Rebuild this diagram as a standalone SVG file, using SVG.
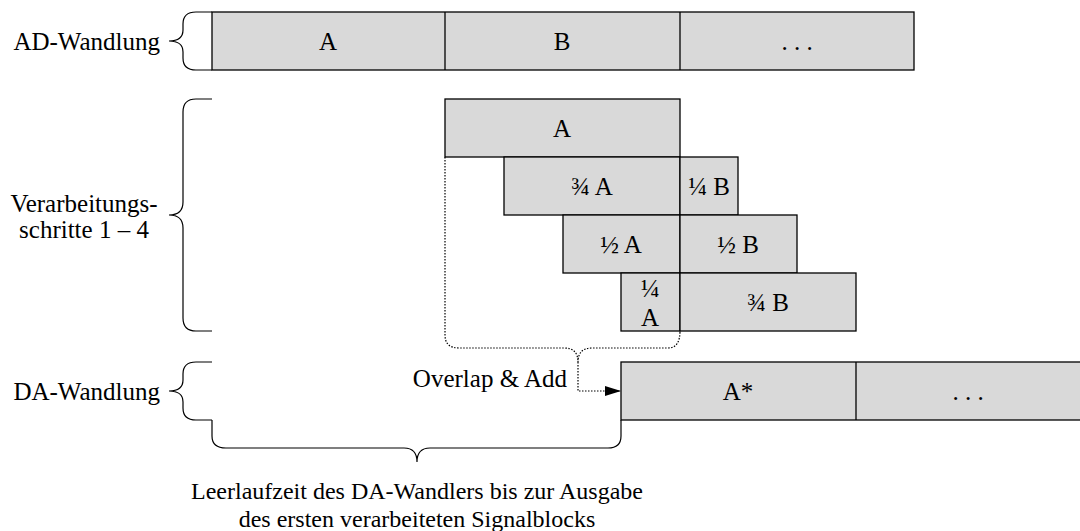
<svg xmlns="http://www.w3.org/2000/svg" width="1080" height="531" viewBox="0 0 1080 531">
<defs>
<style>
.box{fill:#d9d9d9;stroke:#000;stroke-width:1.3}
.t{font-family:"Liberation Serif","Times New Roman",serif;font-size:25px;fill:#000}
.s{font-size:24px}
.c{text-anchor:middle;dominant-baseline:central}
.brace{fill:none;stroke:#000;stroke-width:1.2}
.dot{fill:none;stroke:#000;stroke-width:1.2;stroke-dasharray:1.5 1.5}
</style>
<marker id="arr" markerWidth="16" markerHeight="12" refX="16" refY="6" orient="auto" markerUnits="userSpaceOnUse">
<path d="M0,1 L16,6 L0,11 Z" fill="#000"/>
</marker>
</defs>
<rect width="1080" height="531" fill="#fff"/>

<g id="ad-row">
<rect class="box" x="212" y="12" width="702" height="58"/>
<line x1="445" y1="12" x2="445" y2="70" stroke="#000" stroke-width="1.3"/>
<line x1="680" y1="12" x2="680" y2="70" stroke="#000" stroke-width="1.3"/>
<text class="t c" x="328" y="41">A</text>
<text class="t c" x="562" y="41">B</text>
<text class="t c" x="797" y="41">. . .</text>
</g>

<g id="step1">
<rect class="box" x="445" y="99" width="235" height="58"/>
<text class="t c" x="562" y="128">A</text>
</g>
<g id="step2">
<rect class="box" x="504" y="157" width="176" height="58"/>
<rect class="box" x="680" y="157" width="58" height="58"/>
<text class="t c" x="592" y="186">¾ A</text>
<text class="t c" x="709" y="186">¼ B</text>
</g>
<g id="step3">
<rect class="box" x="563" y="215" width="117" height="58"/>
<rect class="box" x="680" y="215" width="117" height="58"/>
<text class="t c" x="621" y="244">½ A</text>
<text class="t c" x="738" y="244">½ B</text>
</g>
<g id="step4">
<rect class="box" x="621" y="273" width="59" height="58"/>
<rect class="box" x="680" y="273" width="176" height="58"/>
<text class="t c" x="650" y="288">¼</text>
<text class="t c" x="650" y="317">A</text>
<text class="t c" x="768" y="302">¾ B</text>
</g>

<g id="da-row">
<rect class="box" x="621" y="362" width="470" height="58"/>
<line x1="856" y1="362" x2="856" y2="420" stroke="#000" stroke-width="1.3"/>
<text class="t c" x="738" y="391">A*</text>
<text class="t c" x="968" y="391">. . .</text>
</g>

<g id="labels">
<text class="t" x="160" y="41" text-anchor="end" dominant-baseline="central">AD-Wandlung</text>
<text class="t" x="84" y="203" text-anchor="middle" dominant-baseline="central">Verarbeitungs-</text>
<text class="t" x="84" y="229" text-anchor="middle" dominant-baseline="central">schritte 1 – 4</text>
<text class="t" x="160" y="391" text-anchor="end" dominant-baseline="central">DA-Wandlung</text>
<text class="t" x="567" y="378" text-anchor="end" dominant-baseline="central">Overlap &amp; Add</text>
<text class="t s c" x="417" y="491">Leerlaufzeit des DA-Wandlers bis zur Ausgabe</text>
<text class="t s c" x="417" y="519">des ersten verarbeiteten Signalblocks</text>
</g>

<g id="connectors">
<path class="brace" d="M212,12 H196 Q183,12 183,24 V30 Q183,41 169,41 Q183,41 183,52 V58 Q183,70 196,70 H212"/>
<path class="brace" d="M212,99 H196 Q183,99 183,112 V202 Q183,215 169,215 Q183,215 183,228 V318 Q183,331 196,331 H212"/>
<path class="brace" d="M212,362 H196 Q183,362 183,374 V380 Q183,391 169,391 Q183,391 183,402 V408 Q183,420 196,420 H212"/>
<path class="brace" d="M212,420 V436 Q212,448 226,448 H404 Q417,448 417,462 Q417,448 430,448 H608 Q621,448 621,436 V420"/>
<path class="dot" d="M445,157 V335 Q445,348 459,348 H564 Q578,348 578,362 Q578,348 592,348 H668 Q680,348 680,331"/>
<path class="dot" d="M578,362 V391 H621" marker-end="url(#arr)"/>
</g>
</svg>
